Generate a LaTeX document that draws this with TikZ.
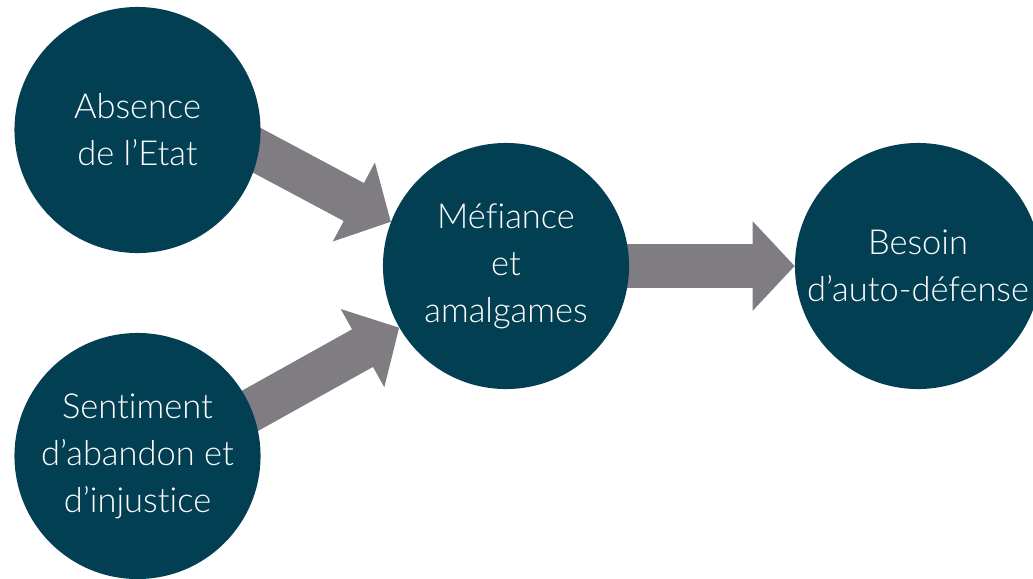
\documentclass[tikz,border=0pt]{standalone}
\usepackage{fontspec}
\setmainfont{Lato}[UprightFont=* Light, Ligatures=NoCommon]
\usetikzlibrary{arrows.meta,backgrounds}

\definecolor{bubblefill}{RGB}{3,63,82}
\definecolor{arrowgray}{RGB}{127,124,130}

\begin{document}
\begin{tikzpicture}[x=0.025cm, y=-0.025cm,
    bubble/.style={circle, fill=bubblefill, minimum size=6.15cm, inner sep=0pt,
        text=white, align=center, font=\fontsize{24.5}{33.4}\selectfont},
    blockarrow/.style={draw=arrowgray, line width=1.075cm, shorten <=-0.6cm,
        -{Triangle[length=1.05cm, width=2.175cm]}}]

    \useasboundingbox (0, 0) rectangle (1033, 579);

    % these are the circles
    \node[bubble] (abs) at (137.5, 130) {Absence\\de l’Etat};
    \node[bubble] (sent) at (137.5, 456) {Sentiment\\d’abandon et\\d’injustice};
    \node[bubble] (mef) at (506, 266) {Méfiance\\et\\amalgames};
    \node[bubble] (bes) at (918, 266) {Besoin\\d’auto-défense};

    % the arrows go behind them
    \begin{scope}[on background layer]
        \draw[blockarrow] (abs.-10) -- (mef.159);
        \draw[blockarrow] (sent.22) -- (mef.210);
        \draw[blockarrow] (mef.east) -- (bes.west);
    \end{scope}

\end{tikzpicture}
\end{document}
